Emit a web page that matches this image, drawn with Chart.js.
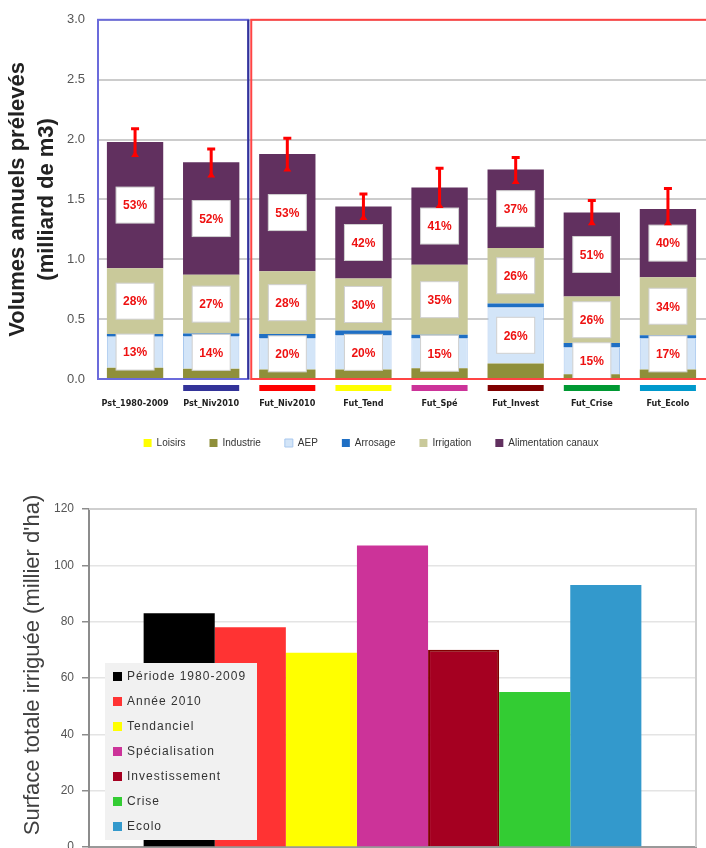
<!DOCTYPE html>
<html>
<head>
<meta charset="utf-8">
<script src="https://cdn.jsdelivr.net/npm/chart.js@4.4.1/dist/chart.umd.min.js"></script>
<style>
  html, body { margin: 0; padding: 0; background: #fff; overflow: hidden; }
  #c1 { position: absolute; left: 0; top: 0; }
  #c2 { position: absolute; left: 0; top: 470px; }
</style>
</head>
<body>
<canvas id="c1" width="706" height="470"></canvas>
<canvas id="c2" width="706" height="420"></canvas>
<script>
// Graphique 1 : volumes annuels prélevés (milliard de m3)
var scenarios = ['Pst_1980-2009', 'Pst_Niv2010', 'Fut_Niv2010', 'Fut_Tend', 'Fut_Spé', 'Fut_Invest', 'Fut_Crise', 'Fut_Ecolo'];
var loisirs    = [0.005, 0.005, 0.005, 0.005, 0.005, 0.005, 0.005, 0.005];
var industrie  = [0.09, 0.08, 0.075, 0.075, 0.085, 0.125, 0.035, 0.075];
var aep        = [0.26, 0.275, 0.26, 0.285, 0.25, 0.47, 0.225, 0.26];
var arrosage   = [0.02, 0.02, 0.035, 0.04, 0.03, 0.03, 0.035, 0.025];
var irrigation = [0.55, 0.49, 0.525, 0.435, 0.585, 0.465, 0.39, 0.485];
var canaux     = [1.055, 0.94, 0.98, 0.60, 0.645, 0.655, 0.70, 0.57];
var errBas     = [1.87, 1.70, 1.75, 1.345, 1.445, 1.645, 1.30, 1.30];
var errHaut    = [2.09, 1.92, 2.01, 1.545, 1.76, 1.85, 1.49, 1.59];
var pctAEP     = [13, 14, 20, 20, 15, 26, 15, 17];
var pctIrrig   = [28, 27, 28, 30, 35, 26, 26, 34];
var pctCanaux  = [53, 52, 53, 42, 41, 37, 51, 40];
var couleursScen = [null, '#333399', '#ff0000', '#ffff00', '#cc3399', '#800000', '#009933', '#0099cc'];

// Graphique 2 : surface totale irriguée (millier d'ha)
var nomsSurface = ['Période 1980-2009', 'Année 2010', 'Tendanciel', 'Spécialisation', 'Investissement', 'Crise', 'Ecolo'];
var surfaces    = [83, 78, 69, 107, 70, 55, 93];
var couleursSurface = ['#000000', '#ff3333', '#ffff00', '#cc3399', '#a50021', '#33cc33', '#3399cc'];
var titreSurface = "Surface totale irriguée (millier d'ha)";

var decorHaut = {
    id: 'decorHaut',
    afterLayout: function (chart) {
        // légende un peu décalée vers la droite comme dans l'original
        chart.legend.left += 18;
        chart.legend.right += 18;
    },
    afterDatasetsDraw: function (chart) {
        var ctx = chart.ctx, a = chart.chartArea, x = chart.scales.x, y = chart.scales.y;
        ctx.save();
        // étiquettes de pourcentage
        [[2, pctAEP], [4, pctIrrig], [5, pctCanaux]].forEach(function (s) {
            chart.getDatasetMeta(s[0]).data.forEach(function (bar, i) {
                var cy = (bar.y + bar.base) / 2;
                ctx.fillStyle = '#ffffff';
                ctx.strokeStyle = '#d0d0d0';
                ctx.lineWidth = 1;
                ctx.fillRect(bar.x - 19, cy - 18, 38, 36);
                ctx.strokeRect(bar.x - 19, cy - 18, 38, 36);
                ctx.fillStyle = '#ee1111';
                ctx.font = 'bold 12px "Liberation Sans", sans-serif';
                ctx.textAlign = 'center';
                ctx.textBaseline = 'middle';
                ctx.fillText(s[1][i] + '%', bar.x, cy + 1);
            });
        });
        // barres d'erreur
        ctx.strokeStyle = '#ff0000';
        ctx.fillStyle = '#ff0000';
        for (var i = 0; i < scenarios.length; i++) {
            var px = x.getPixelForValue(i);
            var y1 = y.getPixelForValue(errHaut[i]), y2 = y.getPixelForValue(errBas[i]);
            ctx.lineWidth = 3;
            ctx.beginPath();
            ctx.moveTo(px, y1); ctx.lineTo(px, y2);
            ctx.moveTo(px - 4, y1); ctx.lineTo(px + 4, y1);
            ctx.stroke();
            ctx.beginPath();
            ctx.moveTo(px - 4, y2 + 2); ctx.lineTo(px + 4, y2 + 2); ctx.lineTo(px, y2 - 4);
            ctx.closePath();
            ctx.fill();
        }
        // cadres présent / futur
        var sep = x.getPixelForValue(1.5);
        ctx.lineWidth = 2;
        ctx.strokeStyle = '#6b6bdb';
        ctx.strokeRect(a.left + 1, a.top, sep - 2 - a.left, a.bottom - a.top);
        ctx.strokeStyle = '#333399';
        ctx.beginPath(); ctx.moveTo(sep - 1, a.top); ctx.lineTo(sep - 1, a.bottom); ctx.stroke();
        ctx.strokeStyle = '#ff4444';
        ctx.strokeRect(sep + 2, a.top, a.right + 20 - sep, a.bottom - a.top);
        // traits de couleur sous les scénarios
        for (var j = 0; j < scenarios.length; j++) {
            if (!couleursScen[j]) continue;
            var cx = x.getPixelForValue(j);
            ctx.fillStyle = couleursScen[j];
            ctx.fillRect(cx - 28, a.bottom + 6, 56, 6);
        }
        ctx.restore();
    }
};

var ctx1 = document.getElementById('c1').getContext('2d');
var chart1 = new Chart(ctx1, {
    type: 'bar',
    data: {
        labels: scenarios,
        datasets: [
            { label: 'Loisirs', data: loisirs, backgroundColor: '#ffff00' },
            { label: 'Industrie', data: industrie, backgroundColor: '#8f8f3a' },
            { label: 'AEP', data: aep, backgroundColor: '#d3e5f8', borderColor: '#a9c8ee', borderWidth: 1 },
            { label: 'Arrosage', data: arrosage, backgroundColor: '#1f6fc4' },
            { label: 'Irrigation', data: irrigation, backgroundColor: '#c9c99a' },
            { label: 'Alimentation canaux', data: canaux, backgroundColor: '#61305f' }
        ]
    },
    options: {
        responsive: false,
        animation: false,
        layout: { padding: { top: 13, right: 0, left: 0, bottom: 12 } },
        datasets: { bar: { categoryPercentage: 1, barPercentage: 0.74 } },
        plugins: {
            tooltip: { enabled: false },
            legend: {
                position: 'bottom',
                labels: {
                    boxWidth: 8, boxHeight: 8, padding: 24, color: '#333',
                    font: { size: 10, family: '"Liberation Sans", sans-serif' }
                }
            }
        },
        scales: {
            x: {
                stacked: true,
                grid: { display: false },
                border: { display: false },
                ticks: {
                    padding: 11, color: '#222',
                    font: { size: 9, weight: 'bold', family: '"DejaVu Sans Condensed", "Liberation Sans", sans-serif' }
                },
                afterFit: function (s) { s.height = 35; }
            },
            y: {
                stacked: true,
                min: 0, max: 3,
                border: { display: false },
                grid: { color: '#cccccc', lineWidth: 2, drawTicks: false },
                ticks: {
                    stepSize: 0.5, padding: 12, color: '#555',
                    font: { size: 13, family: '"Liberation Sans", sans-serif' },
                    callback: function (v) { return v.toFixed(1); }
                },
                title: {
                    display: true,
                    text: ['Volumes annuels prélevés', '(milliard de m3)'],
                    color: '#222',
                    font: { size: 22, weight: 'bold', family: '"Liberation Sans", sans-serif', lineHeight: 1.3 },
                    padding: { top: 4, bottom: 0 }
                },
                afterFit: function (s) { s.width = 97; }
            }
        }
    },
    plugins: [decorHaut]
});

var legendeBas = {
    id: 'legendeBas',
    afterDraw: function (chart) {
        var ctx = chart.ctx, a = chart.chartArea;
        ctx.save();
        // cadre du graphique
        ctx.strokeStyle = '#cfcfcf';
        ctx.lineWidth = 2;
        ctx.beginPath();
        ctx.moveTo(a.left, a.top); ctx.lineTo(a.right, a.top); ctx.lineTo(a.right, a.bottom);
        ctx.stroke();
        // titre de l'axe vertical
        ctx.save();
        ctx.translate(33, 195);
        ctx.rotate(-Math.PI / 2);
        ctx.fillStyle = '#404040';
        ctx.font = '22px "Liberation Sans", sans-serif';
        ctx.textAlign = 'center';
        ctx.textBaseline = 'middle';
        ctx.fillText(titreSurface, 0, 0);
        ctx.restore();
        // légende
        ctx.fillStyle = '#f1f1f1';
        ctx.fillRect(105, 193, 152, 177);
        ctx.font = '12px "Liberation Sans", sans-serif';
        ctx.letterSpacing = '1px';
        ctx.textBaseline = 'middle';
        chart.data.datasets.forEach(function (ds, i) {
            var yy = 207 + i * 25;
            ctx.fillStyle = ds.backgroundColor;
            ctx.fillRect(113, yy - 5, 9, 9);
            ctx.fillStyle = '#333';
            ctx.fillText(ds.label, 127, yy);
        });
        ctx.restore();
    }
};

var ctx2 = document.getElementById('c2').getContext('2d');
var chart2 = new Chart(ctx2, {
    type: 'bar',
    data: {
        labels: [''],
        datasets: nomsSurface.map(function (nom, i) {
            return {
                label: nom,
                data: [surfaces[i]],
                backgroundColor: couleursSurface[i],
                borderColor: i === 4 ? '#800000' : couleursSurface[i],
                borderWidth: i === 4 ? 2 : 0
            };
        })
    },
    options: {
        responsive: false,
        animation: false,
        layout: { padding: { top: 39, right: 10, left: 0, bottom: 43 } },
        datasets: { bar: { categoryPercentage: 0.82, barPercentage: 1 } },
        plugins: { legend: { display: false }, tooltip: { enabled: false } },
        scales: {
            x: {
                grid: { display: false },
                ticks: { display: false },
                border: { color: '#999', width: 2 },
                afterFit: function (s) { s.height = 0; }
            },
            y: {
                min: 0, max: 120,
                border: { color: '#8c8c8c', width: 2 },
                grid: { color: '#e4e4e4', lineWidth: 1.5, tickColor: '#8c8c8c', tickLength: 7 },
                ticks: {
                    stepSize: 20, padding: 8, color: '#555',
                    font: { size: 12, family: '"Liberation Sans", sans-serif' }
                },
                afterFit: function (s) { s.width = 89; }
            }
        }
    },
    plugins: [legendeBas]
});
</script>
</body>
</html>
